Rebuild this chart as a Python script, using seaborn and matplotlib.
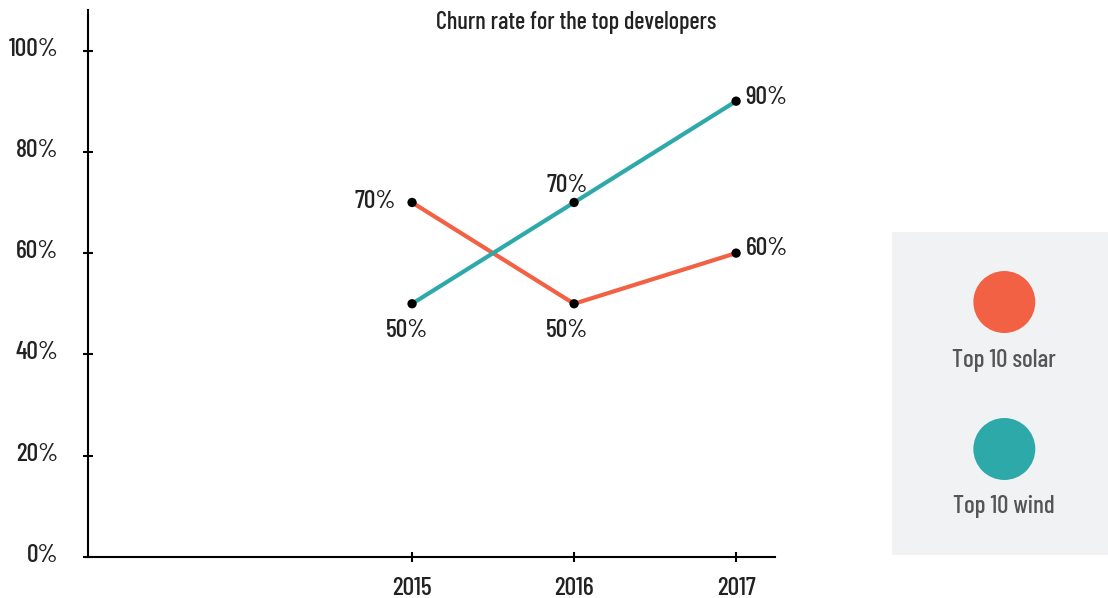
import matplotlib
matplotlib.use("Agg")
import matplotlib.pyplot as plt
from matplotlib.transforms import ScaledTranslation
import seaborn as sb
import pandas as pd

# data
years = [2015, 2016, 2017]
solar = [70, 50, 60]
wind = [50, 70, 90]
series = ["Top 10 solar", "Top 10 wind"]
colors = ["#f26143", "#2ea9a9"]
yticks = [0, 20, 40, 60, 80, 100]

df = pd.DataFrame({"year": years * 2,
                   "churn": solar + wind,
                   "series": [series[0]] * 3 + [series[1]] * 3})

sb.set_style("white")
plt.rcParams['font.family'] = ['Barlow Condensed', 'DejaVu Sans']
plt.rcParams['font.weight'] = 500

fig = plt.figure(figsize=(11.08, 5.98), dpi=100)
ax = fig.add_axes([88/1108, 41/598, 687/1108, 547/598])

sb.lineplot(data=df, x="year", y="churn", hue="series", palette=colors,
            linewidth=3, legend=False, ax=ax)
sb.scatterplot(data=df, x="year", y="churn", color="black", s=45,
               edgecolor="none", legend=False, ax=ax, zorder=5)

ax.set_xlim(2013, 2017.24)
ax.set_ylim(0, 108)
ax.set_xticks(years)
ax.set_xticklabels([str(y) for y in years])
ax.set_yticks(yticks)
ax.set_yticklabels([f"{v}%" for v in yticks])
ax.set_xlabel("")
ax.set_ylabel("")
for s in ["top", "right"]:
    ax.spines[s].set_visible(False)
for s in ["left", "bottom"]:
    ax.spines[s].set_color("black")
    ax.spines[s].set_linewidth(1.5)
ax.tick_params(axis="both", bottom=True, left=True, direction="inout",
               length=7, width=1.5, colors="black", labelcolor="#222222",
               labelsize=18.5)
ax.tick_params(axis="y", pad=18)
ax.tick_params(axis="x", pad=11)
for lbl in ax.get_yticklabels():
    lbl.set_transform(lbl.get_transform() + ScaledTranslation(0, 0.04, fig.dpi_scale_trans))

# point labels
offsets = {
    (series[0], 2015): (-12, 1, "right", "center"),
    (series[0], 2016): (-5, -19, "center", "center"),
    (series[0], 2017): (7, 3, "left", "center"),
    (series[1], 2015): (-4, -19, "center", "center"),
    (series[1], 2016): (-5, 12, "center", "center"),
    (series[1], 2017): (7, 3, "left", "center"),
}
for _, r in df.iterrows():
    dx, dy, ha, va = offsets[(r["series"], r["year"])]
    ax.annotate(f"{r['churn']}%", (r["year"], r["churn"]), xytext=(dx, dy),
                textcoords="offset points", ha=ha, va=va, fontsize=18.5,
                color="#222222")

fig.text(576/1108, 1 - 23/598, "Churn rate for the top developers",
         ha="center", va="center", fontsize=17.5, color="#222222")

# legend panel
lax = fig.add_axes([892/1108, 43/598, 216/1108, 323/598])
lax.set_facecolor("#f1f2f4")
for s in lax.spines.values():
    s.set_visible(False)
lax.set_xticks([])
lax.set_yticks([])
lax.set_xlim(0, 1)
lax.set_ylim(0, 1)
for i, (name, c) in enumerate(zip(series, colors)):
    cy = 1 - (70 + i * 147) / 323
    lax.scatter([0.52], [cy], s=1990, color=c, edgecolor="none")
    lax.text(0.52, cy - 58/323, name, ha="center", va="center",
             fontsize=18, color="#555555")

plt.savefig("out.png", dpi=100)
